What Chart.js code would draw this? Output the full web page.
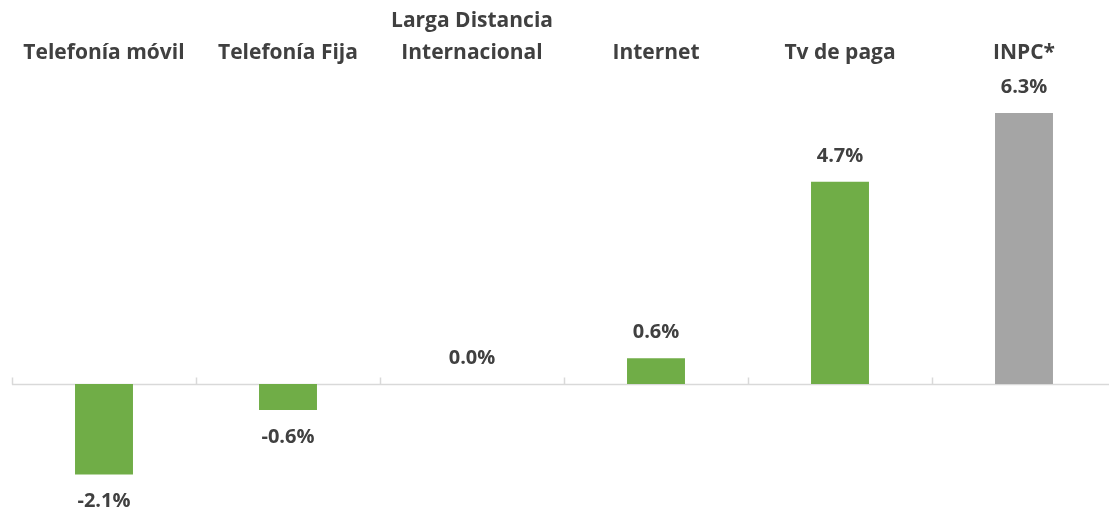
<!DOCTYPE html>
<html><head><meta charset="utf-8">
<script src="https://cdn.jsdelivr.net/npm/chart.js@4"></script>
<style>
html,body{margin:0;padding:0;background:#fff;overflow:hidden;}
#wrap{width:1120px;height:514px;position:relative;}
</style></head>
<body><div id="wrap"><canvas id="c"></canvas></div>
<script>
const categories = ["Telefonía móvil", "Telefonía Fija", ["Larga Distancia", "Internacional"], "Internet", "Tv de paga", "INPC*"];
const values = [-2.1, -0.6, 0.0, 0.6, 4.7, 6.3];
const barColors = ["#70AD47", "#70AD47", "#70AD47", "#70AD47", "#70AD47", "#A5A5A5"];
const FONT = "'Open Sans'";

const axisPlugin = {
  id: 'zeroAxis',
  beforeDatasetsDraw(chart) {
    const {ctx, chartArea, scales} = chart;
    const y0 = Math.round(scales.y.getPixelForValue(0)) + 0.5;
    const xs = scales.x;
    ctx.save();
    ctx.strokeStyle = '#D9D9D9';
    ctx.lineWidth = 1.5;
    ctx.beginPath();
    ctx.moveTo(chartArea.left, y0);
    ctx.lineTo(chartArea.right, y0);
    const n = xs.ticks.length;
    for (let i = 0; i <= n; i++) {
      const x = Math.round(chartArea.left + (chartArea.right - chartArea.left) * i / n) + 0.5;
      ctx.moveTo(x, y0);
      ctx.lineTo(x, y0 - 7);
    }
    ctx.stroke();
    ctx.restore();
  }
};

const labelPlugin = {
  id: 'valueLabels',
  afterDatasetsDraw(chart) {
    const {ctx} = chart;
    const meta = chart.getDatasetMeta(0);
    ctx.save();
    ctx.font = "bold 20px " + FONT;
    ctx.fillStyle = '#404040';
    ctx.textAlign = 'center';
    ctx.textBaseline = 'middle';
    meta.data.forEach((bar, i) => {
      const v = values[i];
      const y = v < 0 ? bar.y + 27 : bar.y - 26;
      ctx.fillText(v.toFixed(1) + '%', bar.x, y);
    });
    ctx.restore();
  }
};

new Chart(document.getElementById('c'), {
  type: 'bar',
  data: {
    labels: categories,
    datasets: [{
      data: values,
      backgroundColor: barColors,
      borderWidth: 0,
      barPercentage: 0.315,
      categoryPercentage: 1.0
    }]
  },
  options: {
    responsive: true,
    maintainAspectRatio: false,
    animation: false,
    layout: {padding: {left: 12, right: 4, top: 0, bottom: 0}},
    plugins: {legend: {display: false}, tooltip: {enabled: false}},
    scales: {
      x: {
        position: 'top',
        grid: {display: false, drawTicks: false},
        border: {display: false},
        ticks: {
          color: '#404040',
          padding: 1,
          maxRotation: 0,
          autoSkip: false,
          font: {family: FONT, size: 21, weight: 'bold', lineHeight: 32/21}
        },
        afterFit(scale) { scale.height = 70; }
      },
      y: {
        display: false,
        min: -3.02,
        max: 7.30
      }
    }
  },
  plugins: [axisPlugin, labelPlugin]
});
</script>
</body></html>
